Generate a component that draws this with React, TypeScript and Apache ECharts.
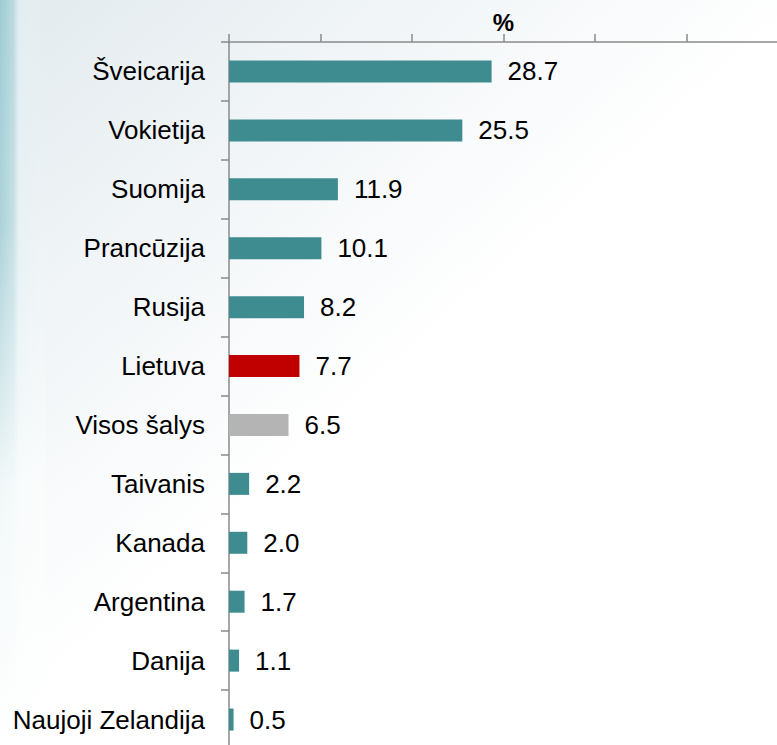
import React, { useEffect, useRef } from "react";
import * as echarts from "echarts";

const categories = [
  "Šveicarija",
  "Vokietija",
  "Suomija",
  "Prancūzija",
  "Rusija",
  "Lietuva",
  "Visos šalys",
  "Taivanis",
  "Kanada",
  "Argentina",
  "Danija",
  "Naujoji Zelandija",
];
const values = [28.7, 25.5, 11.9, 10.1, 8.2, 7.7, 6.5, 2.2, 2.0, 1.7, 1.1, 0.5];
const highlightRed = ["Lietuva"];
const highlightGrey = ["Visos šalys"];
const axisMax = 60;
const axisInterval = 10;

const TEAL = "#3e8b90";
const RED = "#c00000";
const GREY = "#b4b4b4";
const FONT = "Arimo, 'Liberation Sans', Arial, sans-serif";

export default function App() {
  const ref = useRef<HTMLDivElement>(null);
  useEffect(() => {
    if (!ref.current) return;
    const chart = echarts.init(ref.current, undefined, { renderer: "svg" });
    const data = values.map((v, i) => {
      const c = categories[i];
      const color = highlightRed.includes(c) ? RED : highlightGrey.includes(c) ? GREY : TEAL;
      return { value: v, itemStyle: { color } };
    });
    chart.setOption({
      animation: false,
      backgroundColor: "#ffffff",
      graphic: [
        {
          type: "rect",
          z: -10,
          silent: true,
          shape: { x: 0, y: 0, width: 777, height: 745 },
          style: {
            fill: new echarts.graphic.LinearGradient(0, 0, 0.7, 0.75, [
              { offset: 0, color: "#e2eaee" },
              { offset: 0.35, color: "#f1f5f7" },
              { offset: 0.7, color: "#ffffff" },
              { offset: 1, color: "#ffffff" },
            ]),
          },
        },
        {
          type: "rect",
          z: -9,
          silent: true,
          shape: { x: 0, y: 0, width: 45, height: 745 },
          style: {
            fill: new echarts.graphic.LinearGradient(0, 0, 1, 0, [
              { offset: 0, color: "rgba(150,200,208,0.9)" },
              { offset: 0.3, color: "rgba(170,210,216,0.7)" },
              { offset: 0.42, color: "rgba(225,240,243,0.6)" },
              { offset: 1, color: "rgba(235,242,245,0)" },
            ]),
          },
        },
        {
          type: "rect",
          z: -8,
          silent: true,
          shape: { x: 0, y: 0, width: 45, height: 745 },
          style: {
            fill: new echarts.graphic.LinearGradient(0, 0, 0, 1, [
              { offset: 0, color: "rgba(240,245,247,0)" },
              { offset: 0.3, color: "rgba(240,245,247,0.15)" },
              { offset: 0.65, color: "rgba(250,252,252,0.9)" },
              { offset: 1, color: "rgba(255,255,255,1)" },
            ]),
          },
        },
      ],
      grid: { left: 229, top: 42, width: 549, height: 707, outerBoundsMode: "none", containLabel: false },
      xAxis: {
        type: "value",
        position: "top",
        min: 0,
        max: axisMax,
        interval: axisInterval,
        name: "%",
        nameLocation: "middle",
        nameGap: 8,
        nameTextStyle: { fontFamily: FONT, fontSize: 24, fontWeight: "bold", color: "#000" },
        axisLine: { show: true, lineStyle: { color: "#8a8a8a", width: 1.5 } },
        axisTick: { show: true, length: 8, lineStyle: { color: "#8a8a8a", width: 1.5 } },
        axisLabel: { show: false },
        splitLine: { show: false },
      },
      yAxis: {
        type: "category",
        inverse: true,
        data: categories,
        axisLine: { show: true, lineStyle: { color: "#8a8a8a", width: 1.5 } },
        axisTick: { show: true, length: 8, lineStyle: { color: "#8a8a8a", width: 1.5 } },
        axisLabel: { fontFamily: FONT, fontSize: 26, color: "#000", margin: 24 },
      },
      series: [
        {
          type: "bar",
          data,
          barWidth: 22,
          label: {
            show: true,
            position: "right",
            distance: 16,
            fontFamily: FONT,
            fontSize: 26,
            color: "#000",
            formatter: (p: any) => Number(p.value).toFixed(1),
          },
        },
      ],
    });
    return () => chart.dispose();
  }, []);
  return (
    <div
      ref={ref}
      style={{ position: "absolute", left: 0, top: 0, width: 777, height: 745 }}
    />
  );
}
